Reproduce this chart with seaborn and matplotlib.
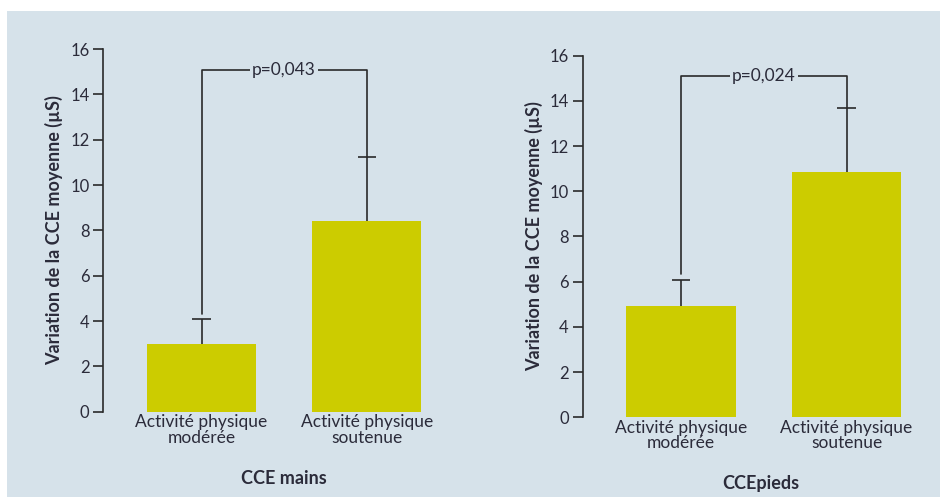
import matplotlib
matplotlib.use('Agg')
import matplotlib.pyplot as plt
import seaborn as sns
import pandas as pd
from matplotlib.patches import Rectangle

# data
categories = ['Activité physique\nmodérée', 'Activité physique\nsoutenue']
mains_means = [3.0, 8.4]
mains_err = [1.07, 2.83]
pieds_means = [4.92, 10.85]
pieds_err = [1.15, 2.84]
p_values = ['p=0,043', 'p=0,024']
bracket_levels = [15.07, 15.1]
panel_titles = ['CCE mains', 'CCEpieds']
yticks = [0, 2, 4, 6, 8, 10, 12, 14, 16]

sns.set_style('white')
plt.rcParams['font.family'] = ['Lato', 'DejaVu Sans']

bg = '#d6e2ea'
bar_color = '#cccc00'
line_color = '#2a2a2a'
text_color = '#2b2b3a'

fig = plt.figure(figsize=(9.4, 4.97), dpi=100)
fig.patch.set_facecolor('white')
fig.patches.append(Rectangle((7 / 940, 0), 1, 1 - 11 / 497, transform=fig.transFigure,
                             facecolor=bg, edgecolor='none', zorder=-10))

axes_pos = [[0.1099, 0.1716, 0.3507, 0.7298], [0.6199, 0.1604, 0.3511, 0.7277]]
label_x = [0.548, 0.54]
series = [(mains_means, mains_err), (pieds_means, pieds_err)]

for i in range(2):
    ax = fig.add_axes(axes_pos[i])
    ax.set_facecolor('none')
    means, errs = series[i]
    df = pd.DataFrame({'cat': categories, 'val': means})
    sns.barplot(data=df, x='cat', y='val', color=bar_color, saturation=1, width=0.66,
                linewidth=0, ax=ax)
    # upper error bars only (stem + cap)
    tops = [m + e for m, e in zip(means, errs)]
    ax.vlines(range(2), means, tops, color=line_color, lw=1.2)
    for x, t in enumerate(tops):
        ax.hlines(t, x - 0.055, x + 0.055, color=line_color, lw=1.2)
    # significance bracket
    top = bracket_levels[i]
    ax.plot([0, 0, 1, 1], [tops[0] + 0.25, top, top, tops[1]],
            color=line_color, lw=1.2)
    ax.text(0.5, top, p_values[i], ha='center', va='center', fontsize=12.5, color=text_color,
            bbox=dict(facecolor=bg, edgecolor='none', pad=1.5))

    ax.set_xlim(-0.594, 1.4)
    ax.set_ylim(0, 16)
    ax.set_yticks(yticks)
    sns.despine(ax=ax, bottom=True)
    ax.spines['left'].set_color(line_color)
    ax.spines['left'].set_linewidth(1.2)
    ax.tick_params(axis='y', left=True, length=7, width=1.2, color=line_color, pad=3,
                   labelsize=12, labelcolor=text_color)
    ax.tick_params(axis='x', bottom=False, length=0, pad=2, labelsize=12.5, labelcolor=text_color)
    for lab in ax.get_xticklabels():
        lab.set_linespacing(0.95)
    ax.set_ylabel('Variation de la CCE moyenne (µS)', fontsize=13, fontweight='bold',
                  color=text_color, labelpad=5)
    ax.set_xlabel(panel_titles[i], fontsize=13, fontweight='bold', color=text_color)
    ax.xaxis.set_label_coords(label_x[i], -58 / (axes_pos[i][3] * 497))

fig.savefig('out.png', dpi=100, facecolor=fig.get_facecolor())
